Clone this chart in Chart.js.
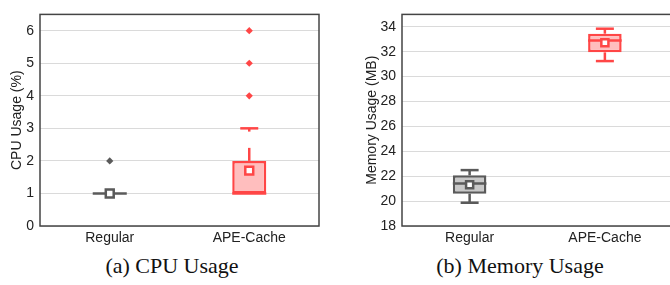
<!DOCTYPE html>
<html>
<head>
<meta charset="utf-8">
<script src="https://cdn.jsdelivr.net/npm/chart.js@4.4.1/dist/chart.umd.min.js"></script>
<style>
  html, body { margin: 0; padding: 0; background: #fff; overflow: hidden; width: 670px; height: 285px; }
  #cpuChart { position: absolute; left: 0; top: 0; }
  #memChart { position: absolute; left: 335px; top: 0; }
  .caption { position: absolute; top: 253px; width: 300px; text-align: center;
             font-family: "Liberation Serif", "Times New Roman", serif; font-size: 22px; color: #111; }
</style>
</head>
<body>
<canvas id="cpuChart" width="335" height="245"></canvas>
<canvas id="memChart" width="345" height="245"></canvas>
<div class="caption" style="left:22px">(a) CPU Usage</div>
<div class="caption" style="left:370px">(b) Memory Usage</div>
<script>
// categories
const categories = ['Regular', 'APE-Cache'];

// CPU usage (%)
const cpuTicks = [0, 1, 2, 3, 4, 5, 6];
const cpuQ1 = [1, 1];
const cpuQ3 = [1, 2];
const cpuMedian = [1, 1];
const cpuMean = [1, 1.7];
const cpuWhiskerLow = [1, 1];
const cpuWhiskerHigh = [1, 3];
const cpuWhiskerGap = [null, [2.4, 2.9]]; // upper whisker is broken in the figure
const cpuOutliers = [[2], [4, 5, 6]];

// Memory usage (MB)
const memTicks = [18, 20, 22, 24, 26, 28, 30, 32, 34];
const memQ1 = [20.6, 31.95];
const memQ3 = [22.07, 33.45];
const memMedian = [21.42, 32.9];
const memMean = [21.32, 32.72];
const memWhiskerLow = [19.87, 31.25];
const memWhiskerHigh = [22.49, 33.85];
const memWhiskerGap = [null, null];
const memOutliers = [[], []];

const strokeColors = ['#5a5a5a', '#ff4646'];
const fillColors = ['#c8c8c8', '#ffbebe'];
const fontFamily = '"Liberation Sans", Arial, sans-serif';

// whiskers + medians, drawn right after the boxes so mean markers sit on top
const boxExtras = {
    id: 'boxExtras',
    afterDatasetDraw(chart, args, opts) {
        if (args.index !== 0) return;
        const ctx = chart.ctx;
        const y = chart.scales.y;
        const bars = chart.getDatasetMeta(0).data;
        ctx.save();
        ctx.lineWidth = 2.5;
        ctx.lineCap = 'butt';
        bars.forEach((bar, i) => {
            const x = bar.x;
            const half = bar.width / 2;
            const capHalf = 9;
            ctx.strokeStyle = strokeColors[i];
            const line = (x1, y1, x2, y2) => {
                ctx.beginPath(); ctx.moveTo(x1, y1); ctx.lineTo(x2, y2); ctx.stroke();
            };
            // upper whisker
            if (opts.high[i] > opts.q3[i]) {
                const gap = opts.gap[i];
                if (gap) {
                    line(x, y.getPixelForValue(opts.q3[i]), x, y.getPixelForValue(gap[0]));
                    line(x, y.getPixelForValue(gap[1]), x, y.getPixelForValue(opts.high[i]));
                } else {
                    line(x, y.getPixelForValue(opts.q3[i]), x, y.getPixelForValue(opts.high[i]));
                }
                const yh = y.getPixelForValue(opts.high[i]);
                line(x - capHalf, yh, x + capHalf, yh);
            }
            // lower whisker
            if (opts.low[i] < opts.q1[i]) {
                line(x, y.getPixelForValue(opts.q1[i]), x, y.getPixelForValue(opts.low[i]));
                const yl = y.getPixelForValue(opts.low[i]);
                line(x - capHalf, yl, x + capHalf, yl);
            }
            // median
            const ym = y.getPixelForValue(opts.median[i]);
            line(x - half, ym, x + half, ym);
        });
        ctx.restore();
    }
};

// dark frame round the plot area
const plotFrame = {
    id: 'plotFrame',
    afterDraw(chart) {
        const { ctx, chartArea: a } = chart;
        ctx.save();
        ctx.strokeStyle = '#444';
        ctx.lineWidth = 1.5;
        ctx.strokeRect(a.left, a.top, a.right - a.left, a.bottom - a.top);
        ctx.restore();
    }
};

function makeBoxChart(id, d) {
    const outlierPoints = [];
    const outlierColors = [];
    d.outliers.forEach((list, i) => list.forEach(v => {
        outlierPoints.push({ x: categories[i], y: v });
        outlierColors.push(strokeColors[i]);
    }));

    return new Chart(document.getElementById(id), {
        type: 'bar',
        data: {
            labels: categories,
            datasets: [
                {
                    data: categories.map((c, i) => [d.q1[i], d.q3[i]]),
                    backgroundColor: fillColors,
                    borderColor: strokeColors,
                    borderWidth: 2.5,
                    borderSkipped: false,
                    categoryPercentage: 1,
                    barPercentage: d.barPct,
                    order: 3
                },
                {
                    type: 'line',
                    data: outlierPoints,
                    showLine: false,
                    pointStyle: 'rectRot',
                    pointRadius: 3.6,
                    pointBackgroundColor: outlierColors,
                    pointBorderColor: outlierColors,
                    pointBorderWidth: 0,
                    order: 2
                },
                {
                    type: 'line',
                    data: d.mean,
                    showLine: false,
                    pointStyle: 'rect',
                    pointRadius: d.meanRadius,
                    pointBackgroundColor: '#fff',
                    pointBorderColor: strokeColors,
                    pointBorderWidth: 2.5,
                    order: 1
                }
            ]
        },
        options: {
            responsive: false,
            animation: false,
            layout: { padding: { top: 7, right: d.padRight, left: 0, bottom: 0 } },
            plugins: {
                legend: { display: false },
                tooltip: { enabled: false },
                boxExtras: { q1: d.q1, q3: d.q3, median: d.median, low: d.low, high: d.high, gap: d.gap }
            },
            scales: {
                x: {
                    grid: { display: false, drawTicks: false },
                    border: { display: false },
                    ticks: { color: '#222', padding: 4, font: { family: fontFamily, size: 14 } },
                    afterFit: s => { s.height = 19; }
                },
                y: {
                    min: d.min,
                    max: d.max,
                    grid: { color: '#dadada', lineWidth: 1, drawTicks: false },
                    border: { display: false },
                    ticks: { color: '#222', padding: 6, font: { family: fontFamily, size: 14 } },
                    afterBuildTicks: s => { s.ticks = d.ticks.map(v => ({ value: v })); },
                    afterFit: s => { s.width = d.axisWidth; },
                    title: {
                        display: true,
                        text: d.title,
                        color: '#222',
                        padding: { top: d.titlePad, bottom: 0 },
                        font: { family: fontFamily, size: 14 }
                    }
                }
            }
        },
        plugins: [boxExtras, plotFrame]
    });
}

makeBoxChart('cpuChart', {
    q1: cpuQ1, q3: cpuQ3, median: cpuMedian, mean: cpuMean,
    low: cpuWhiskerLow, high: cpuWhiskerHigh, gap: cpuWhiskerGap, outliers: cpuOutliers,
    ticks: cpuTicks, min: 0, max: 6.5, title: 'CPU Usage (%)',
    axisWidth: 40, padRight: 16, titlePad: 8.6, barPct: 0.244, meanRadius: 5.6
});

makeBoxChart('memChart', {
    q1: memQ1, q3: memQ3, median: memMedian, mean: memMean,
    low: memWhiskerLow, high: memWhiskerHigh, gap: memWhiskerGap, outliers: memOutliers,
    ticks: memTicks, min: 18, max: 35, title: 'Memory Usage (MB)',
    axisWidth: 67, padRight: 5, titlePad: 28.6, barPct: 0.248, meanRadius: 5
});
</script>
</body>
</html>
